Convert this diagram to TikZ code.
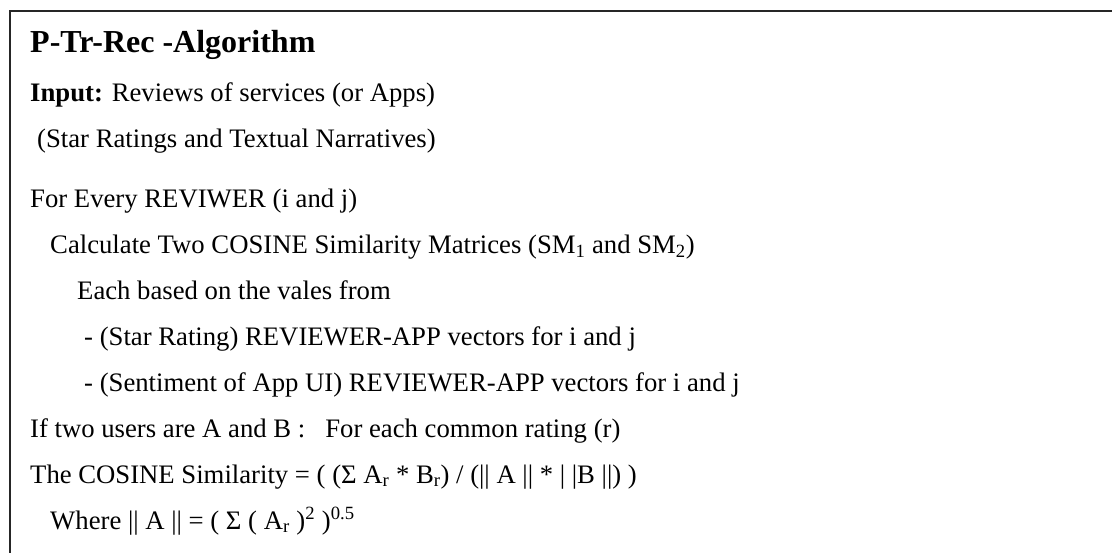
\documentclass[tikz,border=0pt]{standalone}
\usepackage{fontspec}
\setmainfont{Liberation Serif}
\begin{document}
\begin{tikzpicture}[x=1pt,y=-1pt,
  txt/.style={anchor=base west, inner sep=0pt, font=\fontsize{26.7}{32}\selectfont},
  heading/.style={anchor=base west, inner sep=0pt, font=\fontsize{32}{38}\selectfont\bfseries},
  frame/.style={draw=black!85, line width=2.2pt, line join=miter}]
\useasboundingbox (0,0) rectangle (1112,553);
% open frame: top rule and left rule
\coordinate (tr) at (1114,11);
\coordinate (tl) at (10,11);
\coordinate (bl) at (10,555);
\draw[frame] (tr) -- (tl) -- (bl);
% algorithm text
\node[heading] (title) at (30,53) {P-Tr-Rec -Algorithm};
\node[txt] (input) at (30,102) {\textbf{Input:} Reviews of services (or Apps)};
\node[txt] (kinds) at (37,148) {(Star Ratings and Textual Narratives)};
\node[txt] (loop) at (30,208) {For Every REVIWER (i and j)};
\node[txt] (calc) at (50,254) {Calculate Two COSINE Similarity Matrices (SM\textsubscript{1} and SM\textsubscript{2})};
\node[txt] (each) at (77,300) {Each based on the vales from};
\node[txt] (star) at (84,346) {- (Star Rating) REVIEWER-APP vectors for i and j};
\node[txt] (sent) at (84,392) {- (Sentiment of App UI) REVIEWER-APP vectors for i and j};
\node[txt] (users) at (30,438) {If two users are A and B :\ \ \ For each common rating (r)};
\node[txt] (cos) at (30,483) {The COSINE Similarity = ( (Σ A\textsubscript{r} * B\textsubscript{r}) / (|| A || * | |B ||) )};
\node[txt] (norm) at (50,529) {Where || A || = ( Σ ( A\textsubscript{r} )\textsuperscript{2} )\textsuperscript{0.5}};
\end{tikzpicture}
\end{document}
